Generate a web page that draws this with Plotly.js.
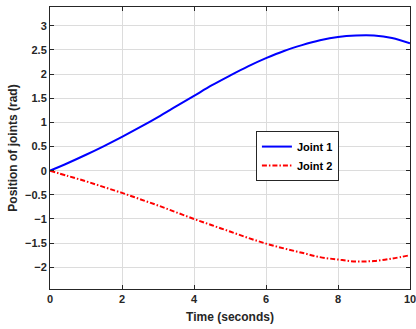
<!DOCTYPE html>
<html><head><meta charset="utf-8">
<script src="https://cdn.plot.ly/plotly-3.0.1.min.js"></script>
<style>html,body{margin:0;padding:0;background:#fff}</style>
</head><body>
<div id="chart" style="width:416px;height:329px"></div>
<script>
const time = [0,0.5,1,1.5,2,2.5,3,3.5,4,4.5,5,5.5,6,6.5,7,7.5,8,8.5,9,9.5,10];
const joint1 = [0,0.16,0.33,0.51,0.70,0.90,1.11,1.33,1.55,1.77,1.97,2.16,2.33,2.48,2.60,2.70,2.77,2.80,2.80,2.75,2.64];
const joint2 = [0,-0.11,-0.22,-0.34,-0.46,-0.59,-0.72,-0.86,-1.00,-1.13,-1.26,-1.39,-1.51,-1.61,-1.70,-1.79,-1.84,-1.88,-1.87,-1.82,-1.75];
const names = ['Joint 1','Joint 2'];
const xTicks = [0,2,4,6,8,10];

const fam = 'Liberation Sans, Arial, sans-serif';
const font = {family:fam, size:11, color:'#262626', weight:'bold'};
const axisCommon = {
  showgrid:true, gridcolor:'#dcdcdc', gridwidth:1,
  showline:true, linecolor:'#262626', linewidth:1, mirror:'ticks',
  ticks:'inside', ticklen:4, tickcolor:'#262626',
  zeroline:false, tickfont:font, ticklabeloverflow:'allow'
};
const data = [
  {x:time, y:joint1, name:names[0], type:'scatter', mode:'lines', line:{color:'#0000ff', width:2, shape:'spline'}},
  {x:time, y:joint2, name:names[1], type:'scatter', mode:'lines', line:{color:'#ff0000', width:2, dash:'5px,2px,1.5px,2px', shape:'spline'}}
];
const layout = {
  width:416, height:329,
  margin:{l:50, r:6, t:7, b:40},
  paper_bgcolor:'#fff', plot_bgcolor:'#fff',
  font:font,
  showlegend:true,
  legend:{x:0.572, y:0.56, xanchor:'left', yanchor:'top', bgcolor:'#fff', bordercolor:'#262626', borderwidth:1,
          font:{family:fam, size:11, color:'#000', weight:'bold'}, itemwidth:30, tracegroupgap:0},
  xaxis:Object.assign({}, axisCommon, {range:[0,10], tickvals:xTicks, ticktext:xTicks.map(String),
    title:{text:'Time (seconds)', font:{family:fam, size:12, color:'#262626', weight:'bold'}, standoff:8}}),
  yaxis:Object.assign({}, axisCommon, {range:[-2.45,3.39], dtick:0.5, tick0:0,
    title:{text:'Position of joints (rad)', font:{family:fam, size:12, color:'#262626', weight:'bold'}, standoff:4}})
};
Plotly.newPlot('chart', data, layout, {displayModeBar:false, staticPlot:true});
</script>
</body></html>
